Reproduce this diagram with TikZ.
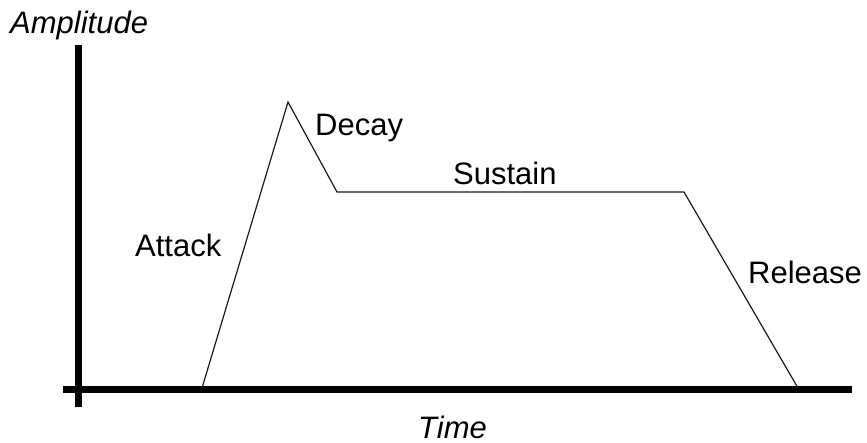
\documentclass[tikz,border=0pt]{standalone}
\usepackage{fontspec}
\setmainfont{Liberation Sans}
\usepackage{xcolor}
\usepackage{tikz}
\usetikzlibrary{positioning}
\definecolor{axisc}{HTML}{000000}
\definecolor{envc}{HTML}{1A1A1A}
\tikzset{
  axis/.style={line width=7pt,axisc},
  env/.style={line width=1.2pt,envc,line join=miter},
  lbl/.style={font=\fontsize{31}{33}\selectfont,inner sep=0pt,anchor=base west},
  albl/.style={lbl,font=\fontsize{31}{33}\selectfont\itshape}
}
\begin{document}
\begin{tikzpicture}[x=1pt,y=-1pt]
\useasboundingbox (0,0) rectangle (867,443);
\coordinate (ytop) at (78,45); \coordinate (ybot) at (78,407);
\coordinate (xl) at (63,389); \coordinate (xr) at (852,389);
\draw[axis] (ybot)--(ytop);
\draw[axis] (xl)--(xr);
\coordinate (S) at (202,388); \coordinate (P) at (288,102);
\coordinate (D) at (337,192); \coordinate (R) at (684,192);
\coordinate (E) at (798,388);
\draw[env] (S)--(P)--(D)--(R)--(E);
\node[albl] (amp) at (10,34) {Amplitude};
\node[albl] (time) at (418,438) {Time};
\node[lbl] (attack) at (135,257) {Attack};
\node[lbl] (decay) at (315,136) {Decay};
\node[lbl] (sustain) at (453,185) {Sustain};
\node[lbl] (release) at (748,284) {Release};
\end{tikzpicture}
\end{document}
